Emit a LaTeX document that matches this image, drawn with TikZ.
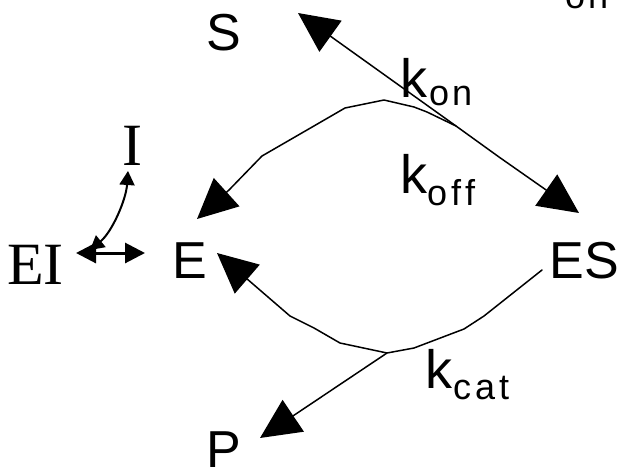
\documentclass[tikz,border=0pt]{standalone}
\usepackage{fontspec}
\setmainfont{Liberation Sans}
\newfontfamily\seriffam{Liberation Serif}
\usetikzlibrary{arrows.meta}
\newcommand\subfont{\fontsize{36}{40}\selectfont}
\begin{document}
\begin{tikzpicture}[x=1pt,y=-1pt,
  lbl/.style={inner sep=0pt,anchor=base,font=\fontsize{52}{60}\selectfont},
  slbl/.style={inner sep=0pt,anchor=base,font=\seriffam\fontsize{60}{70}\selectfont},
  klbl/.style={inner sep=0pt,anchor=base west,font=\fontsize{54}{60}\selectfont},
  conn/.style={line width=1.5pt,line join=round,line cap=round},
  bighead/.tip={Triangle[length=40pt,width=38pt]},
  smallhead/.tip={Triangle[length=14pt,width=15pt]},
  midhead/.tip={Triangle[length=20pt,width=20pt]}]
\useasboundingbox (0,0) rectangle (621,474);
\fill[white] (0,0) rectangle (621,474);
% labels
\node[lbl] (S) at (224,50) {S};
\node[lbl] (E) at (190,278) {E};
\node[lbl] (ES) at (584.5,278) {ES};
\node[lbl] (P) at (224,467) {P};
\node[slbl] (I) at (132,165) {I};
\node[slbl] (EI) at (35.5,284) {EI};
\node[klbl] (kon) at (400,97) {k\kern2pt\raisebox{-8pt}{\subfont o\kern3pt n}};
\node[klbl] (koff) at (400,193) {k\raisebox{-12pt}{\subfont o\kern4pt f\kern4pt f}};
\node[klbl] (kcat) at (425,388) {k\kern1pt\raisebox{-11pt}{\subfont c\kern4pt a\kern4pt t}};
\node[inner sep=0pt,anchor=base west] (ontop) at (565,8) {\subfont o\kern3pt n};
% connector end points
\coordinate (sTip) at (298,13);
\coordinate (kj) at (456,126);
\coordinate (eTipA) at (197,219);
\coordinate (esTip) at (579,213);
\coordinate (esStart) at (542,270);
\coordinate (eTipB) at (217,253);
\coordinate (pj) at (387,353);
\coordinate (pTip) at (260,438);
\coordinate (iTip) at (128,171);
\coordinate (eiTip) at (90,250);
\coordinate (eiA) at (76,253);
\coordinate (eiB) at (145,253);
% upper reaction E <-> ES
\draw[conn,bighead-bighead] (eTipA) -- (229,190) -- (262,156) -- (307,130) -- (345,108)
  -- (384,100) -- (414,107) -- (427,112) -- (456,126) -- (499,157) -- (esTip);
% to S
\draw[conn,-bighead] (kj) -- (sTip);
% lower reaction ES -> E
\draw[conn,-bighead] (esStart) -- (484,316) -- (464,329) -- (414,348) -- (pj)
  -- (340,343) -- (314,328) -- (290,316) -- (eTipB);
% to P
\draw[conn,-bighead] (pj) -- (pTip);
% inhibitor
\draw[line width=2pt,smallhead-smallhead] (eiTip) .. controls (112,232) and (126,200) .. (iTip);
\draw[line width=3pt,midhead-midhead] (eiA) -- (eiB);
\end{tikzpicture}
\end{document}
